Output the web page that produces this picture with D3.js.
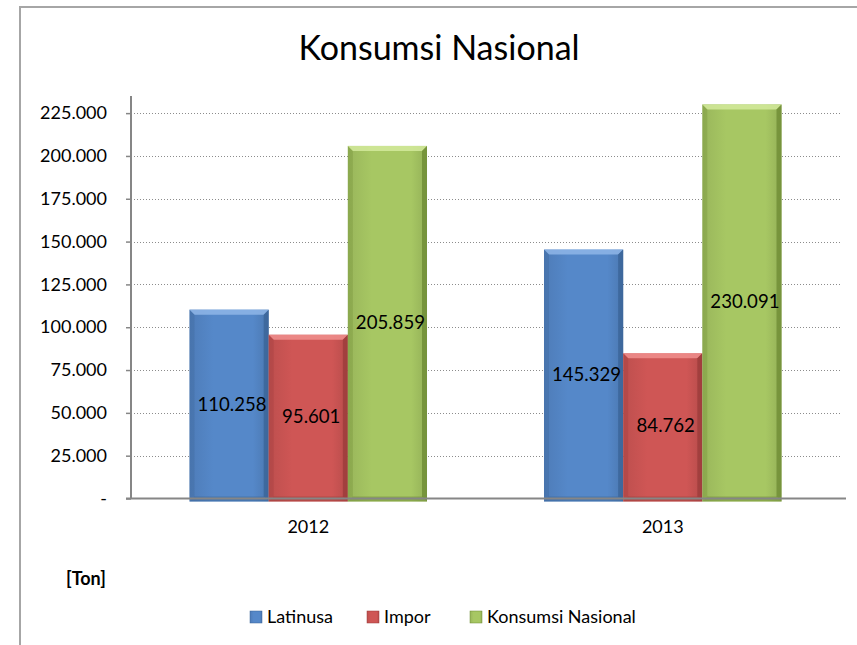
<!DOCTYPE html>
<html>
<head>
<meta charset="utf-8">
<script src="https://cdn.jsdelivr.net/npm/d3@7"></script>
<style>
  body { margin: 0; background: #fff; }
  svg { display: block; font-family: Lato, "Open Sans", sans-serif; }
</style>
</head>
<body>
<div id="chart"></div>
<script>
// data
const years = ["2012", "2013"];
const seriesNames = ["Latinusa", "Impor", "Konsumsi Nasional"];
const latinusaVals = [110258, 145329];
const imporVals = [95601, 84762];
const konsumsiVals = [205859, 230091];
const yTicks = [0, 25000, 50000, 75000, 100000, 125000, 150000, 175000, 200000, 225000];

const colors = {
    "Latinusa": {main: "#5588c9", light: "#8fb6e8", dark: "#3a6396"},
    "Impor": {main: "#cf5655", light: "#f08f8e", dark: "#9a3b3a"},
    "Konsumsi Nasional": {main: "#a7c763", light: "#d3ea9c", dark: "#6c8a33"}
};

const W = 857, H = 645;
const plot = {left: 131, right: 840, top: 96, bottom: 498.5};

// formatting like "225.000", zero shown as "-"
const fmt = v => v === 0 ? "-" : d3.format(",")(v).replace(/,/g, ".");

const svg = d3.select("#chart").append("svg")
    .attr("width", W).attr("height", H);

// horizontal shading for the bars
const defs = svg.append("defs");
seriesNames.forEach((s, i) => {
    let g = defs.append("linearGradient").attr("id", "grad" + i)
        .attr("x1", "0").attr("x2", "1").attr("y1", "0").attr("y2", "0");
    g.append("stop").attr("offset", "0").attr("stop-color", d3.color(colors[s].main).darker(0.25));
    g.append("stop").attr("offset", "0.3").attr("stop-color", colors[s].main);
    g.append("stop").attr("offset", "0.8").attr("stop-color", colors[s].main);
    g.append("stop").attr("offset", "1").attr("stop-color", d3.color(colors[s].main).darker(0.35));
});

// chart border (only top + left visible)
svg.append("path")
    .attr("d", `M20,${H} L20,7 L${W},7`)
    .attr("fill", "none").attr("stroke", "#a6a6a6").attr("stroke-width", 2);

// title
svg.append("text")
    .attr("x", 439).attr("y", 60)
    .attr("text-anchor", "middle")
    .attr("font-size", 34)
    .attr("fill", "#000")
    .text("Konsumsi Nasional");

// scales
const x0 = d3.scaleBand().domain(years).range([plot.left, plot.right])
    .paddingInner(0.33).paddingOuter(0.165);
const x1 = d3.scaleBand().domain(seriesNames).range([0, x0.bandwidth()]);
const y = d3.scaleLinear().domain([0, 235000]).range([plot.bottom, plot.top]);

// gridlines
svg.append("g").selectAll("line")
    .data(yTicks.filter(d => d > 0))
    .join("line")
    .attr("x1", plot.left).attr("x2", plot.right)
    .attr("y1", d => Math.round(y(d)) + 0.5).attr("y2", d => Math.round(y(d)) + 0.5)
    .attr("stroke", "#8c8c8c").attr("stroke-width", 1)
    .attr("stroke-dasharray", "1,2");

// bars
const rows = years.map((yr, i) => ({
    year: yr,
    vals: [latinusaVals[i], imporVals[i], konsumsiVals[i]]
}));

const groups = svg.append("g").selectAll("g")
    .data(rows).join("g")
    .attr("transform", d => `translate(${x0(d.year)},0)`);

groups.each(function (row) {
    let g = d3.select(this);
    row.vals.forEach((v, i) => {
        let s = seriesNames[i];
        let bx = x1(s), bw = x1.bandwidth();
        let top = y(v), bot = plot.bottom + 3;
        let b = 5;
        let c = colors[s];
        g.append("rect")
            .attr("x", bx).attr("y", top).attr("width", bw).attr("height", bot - top)
            .attr("fill", `url(#grad${i})`);
        // top bevel
        g.append("path")
            .attr("d", `M${bx},${top} L${bx + bw},${top} L${bx + bw - b},${top + b} L${bx + b},${top + b} Z`)
            .attr("fill", c.light).attr("opacity", 0.85);
        // right bevel
        g.append("path")
            .attr("d", `M${bx + bw},${top} L${bx + bw},${bot} L${bx + bw - b},${bot - b} L${bx + bw - b},${top + b} Z`)
            .attr("fill", c.dark).attr("opacity", 0.75);
        // left bevel
        g.append("path")
            .attr("d", `M${bx},${top} L${bx + b},${top + b} L${bx + b},${bot - b} L${bx},${bot} Z`)
            .attr("fill", c.dark).attr("opacity", 0.3);
        // bottom bevel
        g.append("path")
            .attr("d", `M${bx},${bot} L${bx + b},${bot - b} L${bx + bw - b},${bot - b} L${bx + bw},${bot} Z`)
            .attr("fill", c.dark).attr("opacity", 0.5);
        // value label, centred in bar
        g.append("text")
            .attr("x", bx + bw / 2 + 3)
            .attr("y", (top + plot.bottom) / 2)
            .attr("dy", "0.35em")
            .attr("text-anchor", "middle")
            .attr("font-size", 18.6)
            .attr("fill", "#000")
            .text(fmt(v));
    });
});

// y axis
const yAxis = d3.axisLeft(y).tickValues(yTicks).tickFormat(fmt).tickSize(5).tickPadding(19);
const ya = svg.append("g").attr("transform", `translate(${plot.left},0)`).call(yAxis);
ya.select(".domain").attr("stroke", "#868686").attr("stroke-width", 2)
    .attr("d", `M0,${plot.top}V${plot.bottom}`);
ya.selectAll(".tick line").attr("stroke", "#868686").attr("stroke-width", 1.5);
ya.selectAll(".tick text").attr("font-size", 18).attr("font-family", "Lato").attr("fill", "#000");

// x axis
const xAxis = d3.axisBottom(x0).tickSize(0).tickPadding(22);
const xa = svg.append("g").attr("transform", `translate(0,${plot.bottom})`).call(xAxis);
xa.select(".domain").attr("stroke", "#868686").attr("stroke-width", 2)
    .attr("d", `M${plot.left - 5},0H846`);
xa.selectAll(".tick text").attr("font-size", 18).attr("font-family", "Lato").attr("fill", "#000");

// unit label
svg.append("text")
    .attr("x", 66).attr("y", 585)
    .attr("font-size", 18).attr("font-weight", "bold")
    .text("[Ton]");

// legend
const legendX = [250, 367, 470];
const legend = svg.append("g").selectAll("g")
    .data(seriesNames).join("g")
    .attr("transform", (d, i) => `translate(${legendX[i]},611)`);
legend.append("rect")
    .attr("width", 12).attr("height", 12)
    .attr("fill", (d, i) => `url(#grad${i})`)
    .attr("stroke", d => colors[d].dark).attr("stroke-width", 0.5);
legend.append("text")
    .attr("x", 17).attr("y", 12)
    .attr("font-size", 18)
    .text(d => d);
</script>
</body>
</html>
